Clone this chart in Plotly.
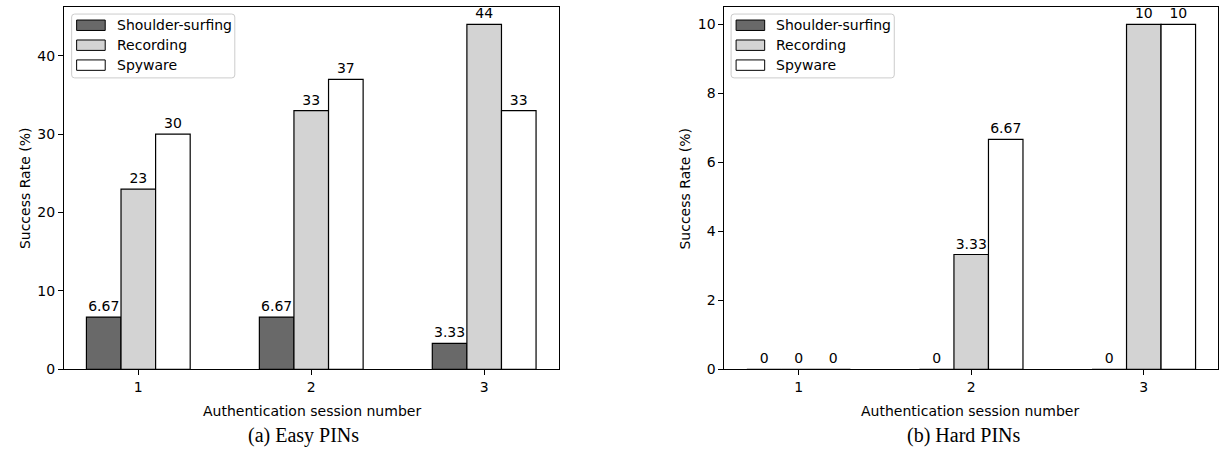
import plotly.graph_objects as go

# ---- data ----
sessions = [1, 2, 3]
series_names = ["Shoulder-surfing", "Recording", "Spyware"]
easy_shoulder = [6.67, 6.67, 3.33]
easy_recording = [23, 33, 44]
easy_spyware = [30, 37, 33]
hard_shoulder = [0, 0, 0]
hard_recording = [0, 3.33, 10]
hard_spyware = [0, 6.67, 10]
easy_yticks = [0, 10, 20, 30, 40]
hard_yticks = [0, 2, 4, 6, 8, 10]

colors = ["#696969", "#d3d3d3", "#ffffff"]

W, H = 1219, 455
FONT = "DejaVu Sans"
FS = 14


def px(x):
    return x / W


def py(y):
    return 1 - y / H


def fmt(v):
    return str(int(v)) if float(v).is_integer() else f"{v:.2f}"


fig = go.Figure()

panels = [
    ("x", "y", [easy_shoulder, easy_recording, easy_spyware]),
    ("x2", "y2", [hard_shoulder, hard_recording, hard_spyware]),
]
for xa, ya, series in panels:
    for name, vals, col in zip(series_names, series, colors):
        fig.add_trace(go.Bar(
            x=sessions, y=vals, name=name, xaxis=xa, yaxis=ya,
            marker=dict(color=col, line=dict(color="black", width=1.2)),
            text=[fmt(v) for v in vals], textposition="outside",
            textfont=dict(family=FONT, size=FS, color="black"),
            constraintext="none", cliponaxis=False, showlegend=False,
        ))

axis_common = dict(
    showline=True, mirror=True, linecolor="black", linewidth=1,
    showgrid=False, zeroline=False, ticks="outside", ticklen=5,
    tickwidth=1, tickcolor="black",
    tickfont=dict(family=FONT, size=FS, color="black"),
)

fig.update_layout(
    width=W, height=H, margin=dict(l=0, r=0, t=0, b=0),
    paper_bgcolor="white", plot_bgcolor="white",
    barmode="group", bargap=0.4, bargroupgap=0,
    xaxis=dict(domain=[px(64), px(559)], range=[0.57, 3.43],
               tickvals=sessions, anchor="y", **axis_common),
    yaxis=dict(domain=[py(376), py(7.3)], range=[0, 46.2],
               tickvals=easy_yticks, anchor="x", **axis_common),
    xaxis2=dict(domain=[px(725), 1.0], range=[0.57, 3.43],
                tickvals=sessions, anchor="y2", **axis_common),
    yaxis2=dict(domain=[py(376), py(7.3)], range=[0, 10.5],
                tickvals=hard_yticks, anchor="x2", **axis_common),
)

annotations = []
shapes = []
# axis titles and captions
for cx, ycx, cap_x, cap in [(312, 25, 304, "(a) Easy PINs"),
                            (971, 686, 965, "(b) Hard PINs")]:
    annotations.append(dict(text="Authentication session number", x=px(cx), y=py(418),
                            xref="paper", yref="paper", showarrow=False,
                            font=dict(family=FONT, size=FS, color="black"),
                            xanchor="center", yanchor="middle"))
    annotations.append(dict(text="Success Rate (%)", x=px(ycx), y=py(191.5),
                            xref="paper", yref="paper", showarrow=False, textangle=-90,
                            font=dict(family=FONT, size=FS, color="black"),
                            xanchor="center", yanchor="middle"))
    annotations.append(dict(text=cap, x=px(cap_x), y=py(443),
                            xref="paper", yref="paper", showarrow=False,
                            font=dict(family="Liberation Serif", size=20, color="black"),
                            xanchor="center", yanchor="middle"))


def rounded_rect(x0, y0, x1, y1, r=3):
    X = lambda v: px(v)
    Y = lambda v: py(v)
    return (f"M {X(x0 + r)},{Y(y0)} L {X(x1 - r)},{Y(y0)} Q {X(x1)},{Y(y0)} {X(x1)},{Y(y0 + r)} "
            f"L {X(x1)},{Y(y1 - r)} Q {X(x1)},{Y(y1)} {X(x1 - r)},{Y(y1)} "
            f"L {X(x0 + r)},{Y(y1)} Q {X(x0)},{Y(y1)} {X(x0)},{Y(y1 - r)} "
            f"L {X(x0)},{Y(y0 + r)} Q {X(x0)},{Y(y0)} {X(x0 + r)},{Y(y0)} Z")


# manual legends
for lx in [71.7, 731.7]:
    shapes.append(dict(type="path", path=rounded_rect(lx, 14.3, lx + 163.3, 79.3),
                       xref="paper", yref="paper", fillcolor="rgba(255,255,255,0.8)",
                       line=dict(color="#cccccc", width=1), layer="above"))
    for i, (name, col) in enumerate(zip(series_names, colors)):
        cy = 25.7 + 20.3 * i
        shapes.append(dict(type="rect", x0=px(lx + 5), x1=px(lx + 33.6),
                           y0=py(cy - 5.3), y1=py(cy + 5.3), xref="paper", yref="paper",
                           fillcolor=col, line=dict(color="black", width=1), layer="above"))
        annotations.append(dict(text=name, x=px(lx + 43), y=py(cy), xref="paper", yref="paper",
                                showarrow=False, xanchor="left", yanchor="middle",
                                font=dict(family=FONT, size=FS, color="black")))

fig.update_layout(annotations=annotations, shapes=shapes)
fig.write_html("out.html", config={"displayModeBar": False},
               post_script="document.body.style.margin='0';document.body.style.overflow='hidden';")
